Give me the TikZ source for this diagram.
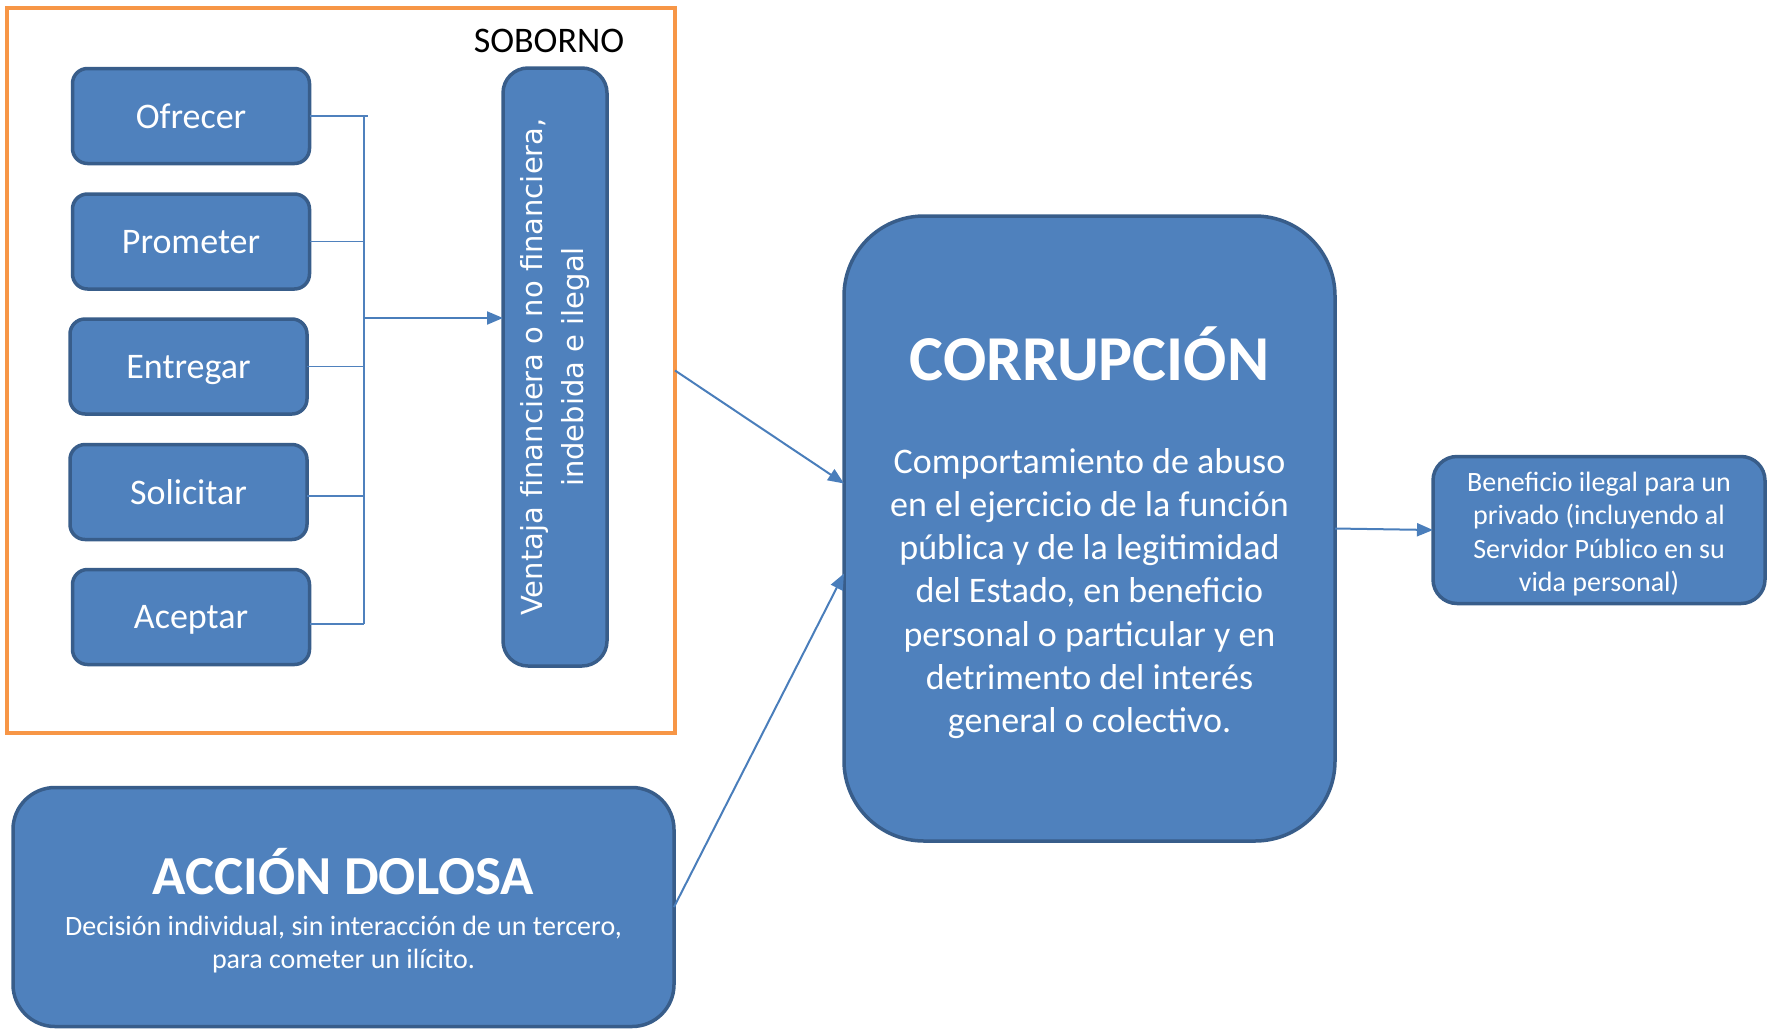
\documentclass[tikz,border=0pt]{standalone}
\usepackage{fontspec}
\setmainfont{Carlito}
\newfontfamily\ventFont{DejaVu Sans}
\usetikzlibrary{arrows.meta}
\definecolor{boxBlue}{HTML}{4F81BD}
\definecolor{boxEdge}{HTML}{385D8A}
\definecolor{frameOrange}{HTML}{F79646}
\definecolor{lineBlue}{HTML}{4A7EBB}

\begin{document}
\begin{tikzpicture}[x=1pt, y=-1pt,
        every node/.style={inner sep=0pt, outer sep=0pt}]
        \tikzstyle{boxStyle} = [draw=boxEdge, fill=boxBlue, line width=3.5pt, text=white]
        \tikzstyle{verbBox} = [boxStyle, rounded corners=15pt, minimum width=237pt,
            minimum height=95pt, text depth=0pt, font=\fontsize{36}{43}\selectfont]
        \tikzstyle{busEdge} = [draw=boxBlue, line width=1.5pt]
        \tikzstyle{blueArrow} = [draw=lineBlue, line width=2pt,
            -{Triangle[length=16pt, width=13pt]}]
        \useasboundingbox (0,0) rectangle (1768,1031);
        % soborno
        \node[draw=frameOrange, line width=4pt, minimum width=668pt,
            minimum height=725pt] (frame) at (341,370.5) {};
        \node[font=\fontsize{36}{43}\selectfont] (sob) at (549,41) {SOBORNO};
        \node[verbBox] (ofr) at (191,116) {Ofrecer};
        \node[verbBox] (pro) at (191,241.5) {Prometer};
        \node[verbBox] (ent) at (188.5,366.5) {Entregar};
        \node[verbBox] (sol) at (188.5,492) {Solicitar};
        \node[verbBox] (ace) at (191,617) {Aceptar};
        \node[boxStyle, rounded corners=25pt, minimum width=104pt,
            minimum height=598pt] (vent) at (555,367) {};
        \node[rotate=90, text=white, align=center,
            font=\ventFont\fontsize{29}{41}\selectfont] (ventTxt) at (vent.center)
            {Ventaja financiera o no financiera,\\indebida e ilegal};
        \coordinate (bus) at (364,318);
        \path[busEdge] (ofr.east) -- (ofr.east -| bus) -- ++(4,0);
        \path[busEdge] (pro.east) -- (pro.east -| bus);
        \path[busEdge] (ent.east) -- (ent.east -| bus);
        \path[busEdge] ([yshift=-4pt]sol.east) -- ([yshift=-4pt]sol.east -| bus);
        \path[busEdge] ([yshift=-7pt]ace.east) -- ([yshift=-7pt]ace.east -| bus);
        \path[busEdge] (ofr.east -| bus) -- ([yshift=-7pt]ace.east -| bus);
        \path[blueArrow] (bus) -- (bus -| vent.west);
        % corrupcion
        \node[boxStyle, rounded corners=80pt, minimum width=491pt,
            minimum height=625pt] (corr) at (1089.5,528.5) {};
        \node[text=white, font=\bfseries\fontsize{64}{77}\selectfont]
            (corrTitle) at (1089.5,354) {CORRUPCIÓN};
        \node[text=white, align=center, font=\fontsize{36}{43.2}\selectfont]
            (corrTxt) at (1089.5,593.5) {Comportamiento de abuso\\en el ejercicio de la función\\pública y de la legitimidad\\del Estado, en beneficio\\personal o particular y en\\detrimento del interés\\general o colectivo.};
        % accion dolosa
        \node[boxStyle, rounded corners=42pt, minimum width=661pt,
            minimum height=239pt] (acc) at (343.5,907) {};
        \node[text=white, font=\bfseries\fontsize{55}{66}\selectfont]
            (accTitle) at (343.5,872) {ACCIÓN DOLOSA};
        \node[text=white, align=center, font=\fontsize{28}{33}\selectfont]
            (accTxt) at (343.5,945) {Decisión individual, sin interacción de un tercero,\\para cometer un ilícito.};
        % beneficio
        \node[boxStyle, rounded corners=24pt, minimum width=332pt,
            minimum height=147pt] (ben) at (1599,530) {};
        \node[text=white, align=center, font=\fontsize{28}{33.5}\selectfont]
            (benTxt) at ([yshift=-4pt]ben.center)
            {Beneficio ilegal para un\\privado (incluyendo al\\Servidor Público en su\\vida personal)};
        \path[blueArrow] (frame.east) -- ([yshift=45pt]corr.west);
        \path[blueArrow] (acc.east) -- ([yshift=-45pt]corr.west);
        \path[blueArrow] (corr.east) -- (ben.west);
\end{tikzpicture}
\end{document}
